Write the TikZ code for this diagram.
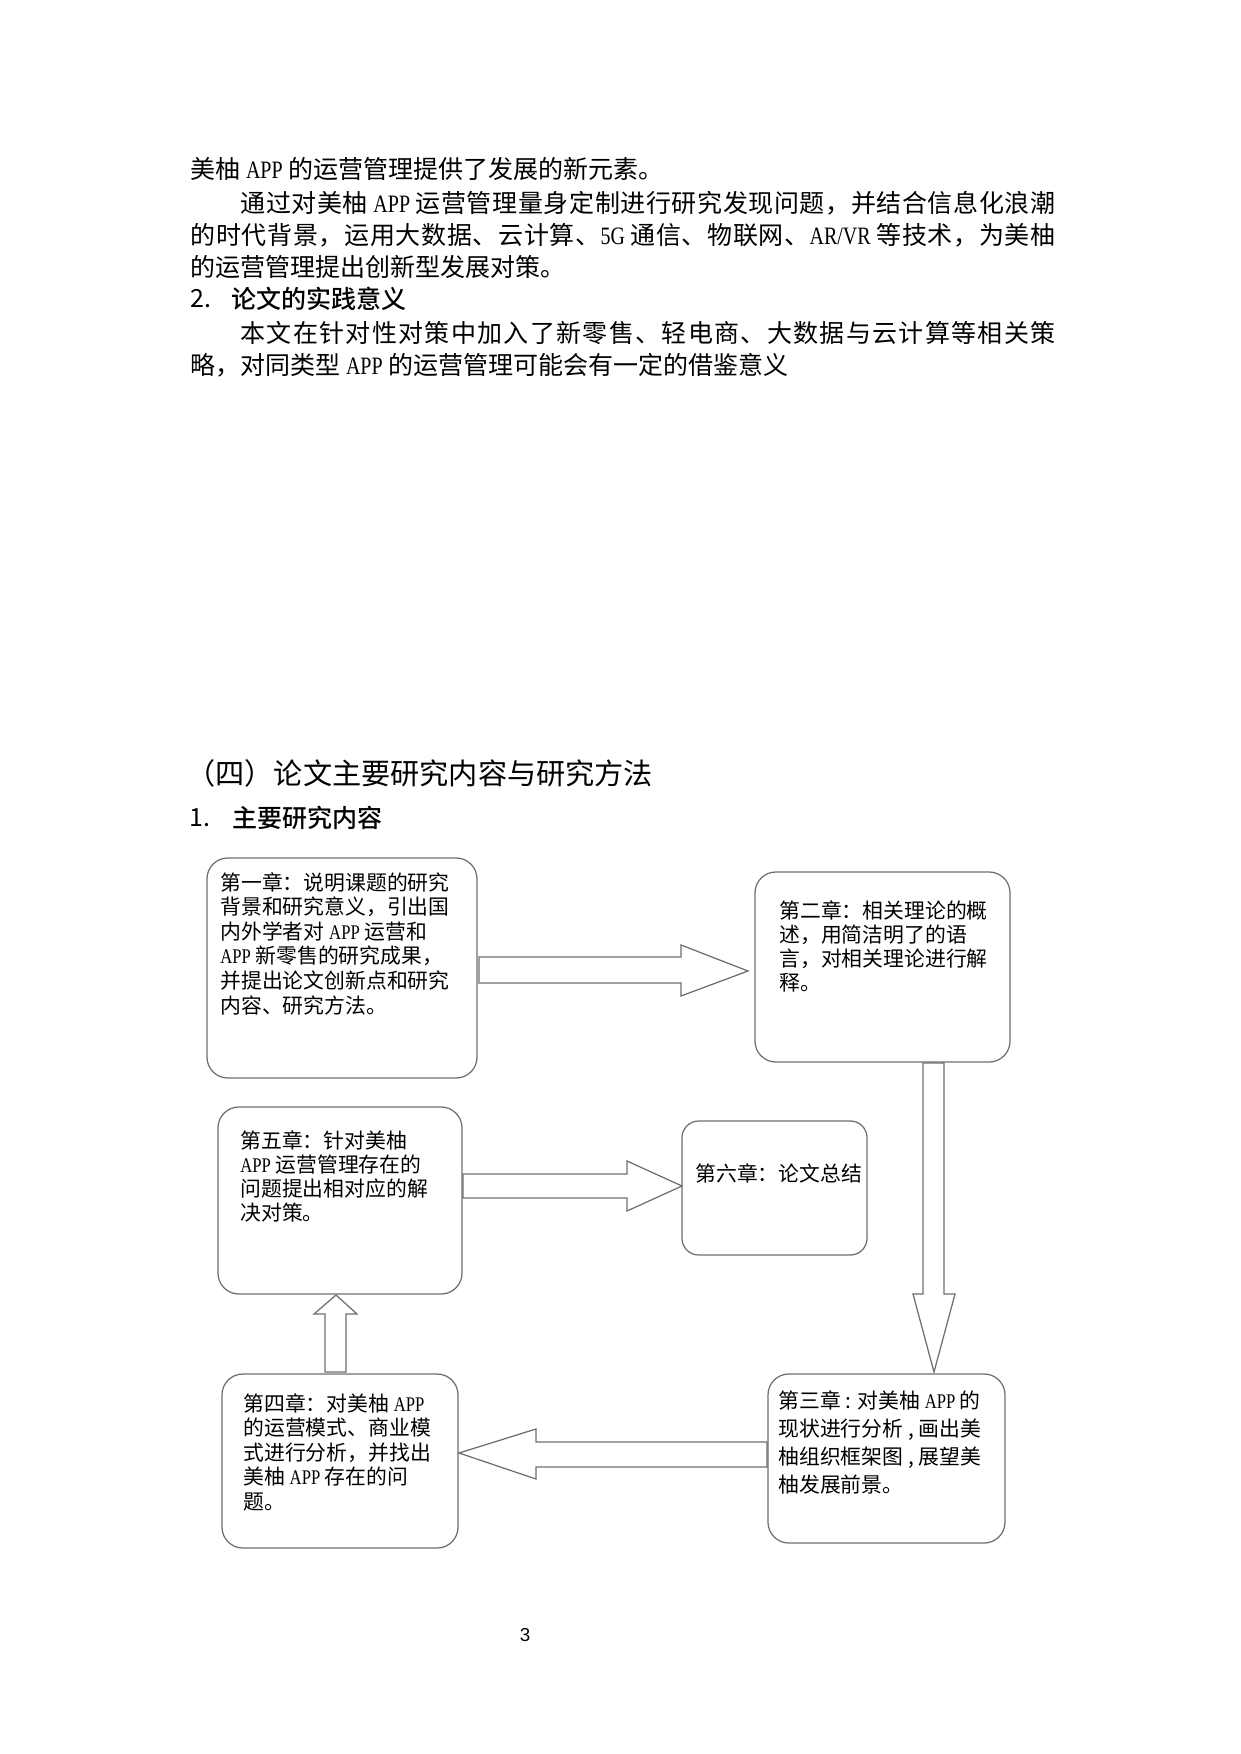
\documentclass[tikz,border=0pt]{standalone}
\usepackage{fontspec}
\setmainfont{Noto Sans CJK SC}
\IfFontExistsTF{Noto Sans CJK SC Medium}
  {\newfontfamily\headcjk{Noto Sans CJK SC Medium}}
  {\newfontfamily\headcjk{Noto Sans CJK SC}[FakeBold=1.2]}
\newfontfamily\lat[FakeStretch=0.8]{Liberation Serif}
\newfontfamily\pgnum{Liberation Sans}
\newdimen\pxu \pxu=0.48006pt
\definecolor{edge}{RGB}{110,110,110}
\newcommand\APP{{\lat APP}}
% character class 7 for CJK ideographs and CJK punctuation
\newcount\cjkc
\cjkc="4E00
\loop \XeTeXcharclass\cjkc=7 \advance\cjkc by 1 \ifnum\cjkc<"A000 \repeat
\cjkc="3000
\loop \XeTeXcharclass\cjkc=7 \advance\cjkc by 1 \ifnum\cjkc<"3040 \repeat
\cjkc="FF00
\loop \XeTeXcharclass\cjkc=7 \advance\cjkc by 1 \ifnum\cjkc<"FF60 \repeat
\newcommand\cjkglue{\hskip 0pt plus 1fil\relax}
\XeTeXinterchartoks 7 7 = {\cjkglue}
\newcommand\justline[2]{\makebox[#1\pxu][s]{\XeTeXinterchartokenstate=1 #2}}
\tikzset{
  chbox/.style={draw=edge, line width=0.6pt, rounded corners=10pt, inner sep=0pt},
  blk/.style={draw=edge, line width=0.6pt, line join=miter},
  bodyline/.style={anchor=west, inner sep=0pt, font=\fontsize{12pt}{14pt}\selectfont},
  secline/.style={anchor=west, inner sep=0pt, font=\fontsize{12pt}{14pt}\selectfont\headcjk},
  boxtext/.style={anchor=north west, inner sep=0pt, align=left, font=\fontsize{10pt}{11.8pt}\selectfont},
}
\begin{document}
\begin{tikzpicture}[x=0.48006pt, y=-0.48006pt]
\useasboundingbox (0,0) rectangle (1240,1754);

% ---------- body text ----------
\node[bodyline] (p1) at (190,169) {美柚 \APP{} 的运营管理提供了发展的新元素。};
\node[bodyline] (p2) at (240,203) {\justline{815}{通过对美柚 \APP{} 运营管理量身定制进行研究发现问题，并结合信息化浪潮}};
\node[bodyline] (p3) at (190,235) {\justline{865}{的时代背景，运用大数据、云计算、{\lat 5G} 通信、物联网、{\lat AR/VR} 等技术，为美柚}};
\node[bodyline] (p4) at (190,267) {的运营管理提出创新型发展对策。};
\node[bodyline] (s2n) at (190,299) {2.};
\node[secline] (s2) at (231,299) {论文的实践意义};
\node[bodyline] (p6) at (240,333) {\justline{815}{本文在针对性对策中加入了新零售、轻电商、大数据与云计算等相关策}};
\node[bodyline] (p7) at (190,365) {略，对同类型 \APP{} 的运营管理可能会有一定的借鉴意义};

\node[anchor=west, inner sep=0pt, font=\fontsize{14pt}{16pt}\selectfont] (h4) at (186,773) {（四）论文主要研究内容与研究方法};
\node[bodyline] (s1n) at (189,818) {1.};
\node[secline] (s1) at (232,818) {主要研究内容};

% ---------- boxes ----------
\node[chbox, minimum width=270\pxu, minimum height=220\pxu] (b1) at (342,968) {};
\node[chbox, minimum width=255\pxu, minimum height=190\pxu] (b2) at (882.5,967) {};
\node[chbox, minimum width=237\pxu, minimum height=169\pxu] (b3) at (886.5,1458.5) {};
\node[chbox, minimum width=236\pxu, minimum height=174\pxu] (b4) at (340,1461) {};
\node[chbox, minimum width=244\pxu, minimum height=187\pxu] (b5) at (340,1200.5) {};
\node[chbox, rounded corners=8pt, minimum width=185\pxu, minimum height=134\pxu] (b6) at (774.5,1188) {};

% ---------- box texts ----------
\node[boxtext] (t1) at (220,872) {第一章：说明课题的研究\\背景和研究意义，引出国\\内外学者对 \APP{} 运营和\\\APP{} 新零售的研究成果，\\并提出论文创新点和研究\\内容、研究方法。};
\node[boxtext, font=\fontsize{10pt}{11.5pt}\selectfont] (t2) at (779,900) {第二章：相关理论的概\\述，用简洁明了的语\\言，对相关理论进行解\\释。};
\node[boxtext, font=\fontsize{10pt}{13.4pt}\selectfont] (t3) at (778,1390.5) {第三章 : 对美柚 \APP{} 的\\现状进行分析 , 画出美\\柚组织框架图 , 展望美\\柚发展前景。};
\node[boxtext] (t4) at (243,1393) {第四章：对美柚 \APP\\的运营模式、商业模\\式进行分析，并找出\\美柚 \APP{} 存在的问\\题。};
\node[boxtext, font=\fontsize{10pt}{11.6pt}\selectfont] (t5) at (240,1130) {第五章：针对美柚\\\APP{} 运营管理存在的\\问题提出相对应的解\\决对策。};
\node[anchor=west, inner sep=0pt, font=\fontsize{10pt}{12pt}\selectfont] (t6) at (695,1173) {第六章：论文总结};

% ---------- block arrows ----------
\draw[blk] (479,957) -- (681,957) -- (681,945) -- (748,971) -- (681,996) -- (681,983) -- (479,983) -- cycle;
\draw[blk] (923,1063) -- (944,1063) -- (944,1294) -- (955,1294) -- (934,1372) -- (913,1294) -- (923,1294) -- cycle;
\draw[blk] (463,1174) -- (627,1174) -- (627,1161) -- (682,1186) -- (627,1211) -- (627,1198) -- (463,1198) -- cycle;
\draw[blk] (767,1442) -- (536,1442) -- (536,1429) -- (459,1453) -- (536,1479) -- (536,1467) -- (767,1467) -- cycle;
\draw[blk] (325,1372) -- (325,1314) -- (314,1314) -- (336,1295) -- (357,1314) -- (346,1314) -- (346,1372) -- cycle;

% ---------- page number ----------
\node[inner sep=0pt, font=\pgnum\fontsize{9pt}{10pt}\selectfont] (pg) at (525,1635) {3};
\end{tikzpicture}
\end{document}
